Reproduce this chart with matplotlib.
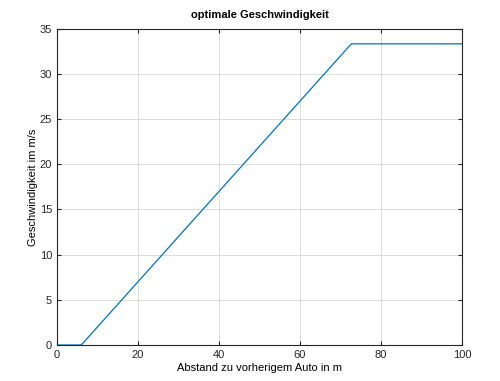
import matplotlib
matplotlib.use('Agg')
import matplotlib.pyplot as plt

# Abstand (m) und optimale Geschwindigkeit (m/s), Knickpunkte
abstand = [0, 6, 72.67, 100]
geschwindigkeit = [0, 0, 33.33, 33.33]

x_ticks = [0, 20, 40, 60, 80, 100]
y_ticks = [0, 5, 10, 15, 20, 25, 30, 35]

plt.rcParams['font.family'] = ['Liberation Sans', 'DejaVu Sans']

fig = plt.figure(figsize=(5.0, 3.81), dpi=100)
ax = fig.add_axes([0.114, 0.0945, 0.81, 0.83])

ax.plot(abstand, geschwindigkeit, color='#0072BD', linewidth=0.9)

ax.set_xlim(0, 100)
ax.set_ylim(0, 35)
ax.set_xticks(x_ticks)
ax.set_yticks(y_ticks)
ax.grid(True, color='#dcdcdc', linewidth=0.7)
ax.tick_params(direction='in', top=True, right=True, labelsize=8, length=3, color='#262626', labelcolor='#262626')
for s in ax.spines.values():
    s.set_color('#262626')
    s.set_linewidth(0.8)

ax.set_title('optimale Geschwindigkeit', fontsize=8, fontweight='bold', pad=8)
ax.set_xlabel('Abstand zu vorherigem Auto in m', fontsize=8, labelpad=2)
ax.set_ylabel('Geschwindigkeit im m/s', fontsize=8, labelpad=1)

plt.savefig('out.png', dpi=100)
